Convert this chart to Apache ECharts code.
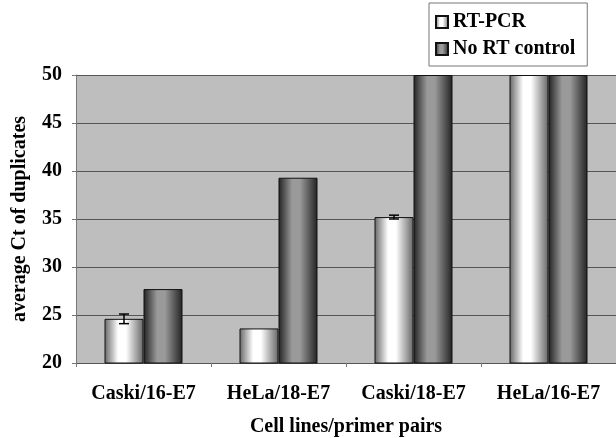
<!DOCTYPE html>
<html>
<head>
<meta charset="utf-8">
<script src="https://cdn.jsdelivr.net/npm/echarts@6/dist/echarts.min.js"></script>
<style>
  html, body { margin: 0; padding: 0; background: #fff; }
  #chart { width: 616px; height: 438px; }
</style>
</head>
<body>
<div id="chart"></div>
<script>
  // data
  var categories = ['Caski/16-E7', 'HeLa/18-E7', 'Caski/18-E7', 'HeLa/16-E7'];
  var rtPcr = [24.6, 23.6, 35.2, 50];
  var noRt = [27.7, 39.3, 50, 50];
  var rtPcrErr = [0.5, 0, 0.2, 0];

  var font = '"Liberation Serif", "Times New Roman", serif';
  var barWidth = 39;

  function cylinder(edge, mid) {
    return new echarts.graphic.LinearGradient(0, 0, 1, 0, [
      { offset: 0, color: edge },
      { offset: 0.35, color: mid },
      { offset: 0.55, color: mid },
      { offset: 1, color: edge }
    ]);
  }

  var chart = echarts.init(document.getElementById('chart'));

  var option = {
    animation: false,
    textStyle: { fontFamily: font },
    legend: {
      orient: 'vertical',
      left: 429,
      top: 3,
      padding: [9, 12, 7, 6],
      itemGap: 7,
      itemWidth: 12,
      itemHeight: 12,
      icon: 'rect',
      borderColor: '#777',
      borderWidth: 1,
      textStyle: { fontFamily: font, fontWeight: 'bold', fontSize: 20, color: '#000' },
      data: ['RT-PCR', 'No RT control']
    },
    grid: {
      show: true,
      left: 76,
      right: 0,
      top: 75,
      bottom: 75,
      outerBoundsMode: 'none',
      containLabel: false,
      backgroundColor: '#bebebe',
      borderWidth: 0
    },
    xAxis: {
      type: 'category',
      data: categories,
      name: 'Cell lines/primer pairs',
      nameLocation: 'middle',
      nameGap: 54,
      nameTextStyle: { fontFamily: font, fontWeight: 'bold', fontSize: 20, color: '#000' },
      axisLine: { lineStyle: { color: '#555', width: 1 } },
      axisTick: { show: true, alignWithLabel: false, length: 4, lineStyle: { color: '#777' } },
      axisLabel: { interval: 0, hideOverlap: false, fontFamily: font, fontWeight: 'bold', fontSize: 20, color: '#000', margin: 21 }
    },
    yAxis: {
      type: 'value',
      min: 20,
      max: 50,
      interval: 5,
      name: 'average Ct of duplicates',
      nameLocation: 'middle',
      nameGap: 46,
      nameTextStyle: { fontFamily: font, fontWeight: 'bold', fontSize: 20, color: '#000' },
      axisLine: { show: true, lineStyle: { color: '#777', width: 1 } },
      axisTick: { show: true, length: 4, lineStyle: { color: '#777' } },
      axisLabel: { fontFamily: font, fontWeight: 'bold', fontSize: 20, color: '#000', margin: 14 },
      splitLine: { lineStyle: { color: '#555', width: 1 } }
    },
    series: [
      {
        name: 'RT-PCR',
        type: 'bar',
        data: rtPcr,
        barWidth: barWidth,
        barGap: '0%',
        itemStyle: { color: cylinder('#666', '#ffffff'), borderColor: '#111', borderWidth: 1 }
      },
      {
        name: 'No RT control',
        type: 'bar',
        data: noRt,
        barWidth: barWidth,
        itemStyle: { color: cylinder('#222', '#9a9a9a'), borderColor: '#111', borderWidth: 1 }
      },
      {
        type: 'custom',
        name: 'err',
        data: rtPcr.map(function (v, i) { return [i, v - rtPcrErr[i], v + rtPcrErr[i]]; }),
        z: 10,
        renderItem: function (params, api) {
          if (api.value(2) - api.value(1) <= 0) return;
          var lo = api.coord([api.value(0), api.value(1)]);
          var hi = api.coord([api.value(0), api.value(2)]);
          var x = lo[0] - barWidth / 2;
          var cap = 5;
          var st = { stroke: '#000', lineWidth: 1.5 };
          return {
            type: 'group',
            children: [
              { type: 'line', shape: { x1: x, y1: lo[1], x2: x, y2: hi[1] }, style: st },
              { type: 'line', shape: { x1: x - cap, y1: lo[1], x2: x + cap, y2: lo[1] }, style: st },
              { type: 'line', shape: { x1: x - cap, y1: hi[1], x2: x + cap, y2: hi[1] }, style: st }
            ]
          };
        }
      }
    ]
  };

  chart.setOption(option);
</script>
</body>
</html>
